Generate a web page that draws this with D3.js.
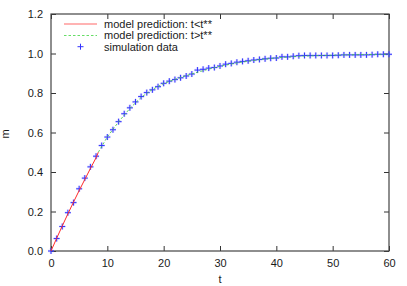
<!DOCTYPE html>
<html>
<head>
<meta charset="utf-8">
<script src="https://cdn.jsdelivr.net/npm/d3@7"></script>
<style>
  body { margin: 0; background: #fff; }
  svg { display: block; font-family: "Liberation Sans", Arial, sans-serif; }
  .axis text { font-size: 11px; fill: #1a1a1a; }
  .legend text { font-size: 11px; fill: #1a1a1a; }
</style>
</head>
<body>
<svg></svg>
<script>
// simulation data, one point per unit of t
let simT = [0, 1, 2, 3, 4, 5, 6, 7, 8, 9, 10, 11, 12, 13, 14, 15, 16, 17, 18, 19, 20,
  21, 22, 23, 24, 25, 26, 27, 28, 29, 30, 31, 32, 33, 34, 35, 36, 37, 38, 39, 40,
  41, 42, 43, 44, 45, 46, 47, 48, 49, 50, 51, 52, 53, 54, 55, 56, 57, 58, 59, 60]
let simM = [0.000, 0.063, 0.124, 0.194, 0.245, 0.315, 0.369, 0.426, 0.480, 0.534, 0.577,
  0.614, 0.655, 0.695, 0.725, 0.755, 0.782, 0.802, 0.816, 0.832, 0.849,
  0.860, 0.868, 0.877, 0.886, 0.896, 0.916, 0.920, 0.926, 0.929, 0.937,
  0.946, 0.950, 0.956, 0.960, 0.963, 0.967, 0.970, 0.973, 0.976, 0.977,
  0.983, 0.983, 0.986, 0.989, 0.990, 0.990, 0.990, 0.990, 0.990, 0.990,
  0.991, 0.993, 0.993, 0.993, 0.993, 0.993, 0.994, 0.996, 0.996, 0.996]

// model prediction before t**
let earlyT = [0, 1, 2, 3, 4, 5, 6, 7, 8, 8.4]
let earlyM = [0, 0.064, 0.127, 0.188, 0.248, 0.306, 0.362, 0.418, 0.472, 0.500]

// model prediction after t**
let lateT = [8.4, 10, 12, 14, 16, 18, 20, 22, 24, 26, 28, 30, 32, 34, 36, 38, 40, 44, 48, 52, 56, 60]
let lateM = [0.500, 0.578, 0.654, 0.722, 0.778, 0.818, 0.848, 0.869, 0.888, 0.905, 0.921,
  0.935, 0.947, 0.957, 0.965, 0.972, 0.978, 0.986, 0.990, 0.993, 0.995, 0.996]

let xTicks = [0, 10, 20, 30, 40, 50, 60]
let yTicks = [0.0, 0.2, 0.4, 0.6, 0.8, 1.0, 1.2]
let legendLabels = ["model prediction: t<t**", "model prediction: t>t**", "simulation data"]

let width = 407
let height = 286
let plotLeft = 51
let plotRight = 389
let plotTop = 14
let plotBottom = 251
let tickLen = 5

let svg = d3.select("svg")
  .attr("width", width)
  .attr("height", height)

let xScale = d3.scaleLinear().domain([0, 60]).range([plotLeft, plotRight])
let yScale = d3.scaleLinear().domain([0, 1.2]).range([plotBottom, plotTop])

// axes, ticks pointing into the plot on all four sides
let xAxis = d3.axisBottom(xScale).tickValues(xTicks).tickFormat(d3.format("d"))
  .tickSizeInner(-tickLen).tickSizeOuter(0).tickPadding(8)
let yAxis = d3.axisLeft(yScale).tickValues(yTicks).tickFormat(d3.format(".1f"))
  .tickSizeInner(-tickLen).tickSizeOuter(0).tickPadding(8)

svg.append("g").attr("class", "axis")
  .attr("transform", "translate(0," + plotBottom + ")")
  .call(xAxis)
svg.append("g").attr("class", "axis")
  .attr("transform", "translate(" + plotLeft + ",0)")
  .call(yAxis)
svg.append("g").attr("class", "axis")
  .attr("transform", "translate(0," + plotTop + ")")
  .call(d3.axisTop(xScale).tickValues(xTicks).tickFormat("").tickSizeInner(-tickLen).tickSizeOuter(0))
svg.append("g").attr("class", "axis")
  .attr("transform", "translate(" + plotRight + ",0)")
  .call(d3.axisRight(yScale).tickValues(yTicks).tickFormat("").tickSizeInner(-tickLen).tickSizeOuter(0))

svg.selectAll(".axis path").remove()
svg.selectAll(".axis line").attr("stroke", "#333")

svg.append("rect")
  .attr("x", plotLeft).attr("y", plotTop)
  .attr("width", plotRight - plotLeft).attr("height", plotBottom - plotTop)
  .attr("fill", "none").attr("stroke", "#444").attr("stroke-width", 1.2)

// axis titles
svg.append("text")
  .attr("x", (plotLeft + plotRight) / 2).attr("y", 283)
  .attr("text-anchor", "middle")
  .style("font-size", "11px").style("fill", "#1a1a1a")
  .text("t")
svg.append("text")
  .attr("transform", "translate(9,134) rotate(-90)")
  .attr("text-anchor", "middle")
  .style("font-size", "11px").style("fill", "#1a1a1a")
  .style("text-decoration", "overline")
  .text("m")

let line = d3.line().x(d => xScale(d[0])).y(d => yScale(d[1]))

let crossPath = (cx, cy, r) =>
  "M" + (cx - r) + "," + cy + "H" + (cx + r) + "M" + cx + "," + (cy - r) + "V" + (cy + r)

let points = svg.append("g")
points.selectAll("path.halo")
  .data(d3.zip(simT, simM))
  .enter()
  .append("path")
  .attr("class", "halo")
  .attr("d", d => crossPath(xScale(d[0]), yScale(d[1]), 3))
  .attr("stroke", "rgba(120,120,255,0.25)").attr("stroke-width", 2.5)
points.selectAll("path.mark")
  .data(d3.zip(simT, simM))
  .enter()
  .append("path")
  .attr("class", "mark")
  .attr("d", d => crossPath(xScale(d[0]), yScale(d[1]), 3))
  .attr("stroke", "#3333ff").attr("stroke-width", 1)

// model curves drawn over the data, as in the original
svg.append("path")
  .datum(d3.zip(lateT, lateM))
  .attr("d", line)
  .attr("fill", "none").attr("stroke", "#44cc44")
  .attr("stroke-width", 1).attr("stroke-dasharray", "2.5,2").attr("opacity", 0.85)

svg.append("path")
  .datum(d3.zip(earlyT, earlyM))
  .attr("d", line)
  .attr("fill", "none").attr("stroke", "#ff2a2a").attr("stroke-width", 1)

// legend
let legend = svg.append("g").attr("class", "legend")
let legendY = [24, 35.5, 46.7]

legend.append("line")
  .attr("x1", 64).attr("x2", 97).attr("y1", legendY[0]).attr("y2", legendY[0])
  .attr("stroke", "#ff9a9a").attr("stroke-width", 1.5)
legend.append("line")
  .attr("x1", 64).attr("x2", 97).attr("y1", legendY[1]).attr("y2", legendY[1])
  .attr("stroke", "#66dd66").attr("stroke-width", 1).attr("stroke-dasharray", "2.5,2")
legend.append("path")
  .attr("d", crossPath(80.5, legendY[2], 3))
  .attr("stroke", "#3333ff").attr("stroke-width", 1)

legend.selectAll("text")
  .data(legendLabels)
  .enter()
  .append("text")
  .attr("x", 104)
  .attr("y", (d, i) => legendY[i])
  .attr("dy", "0.35em")
  .text(d => d)
</script>
</body>
</html>
